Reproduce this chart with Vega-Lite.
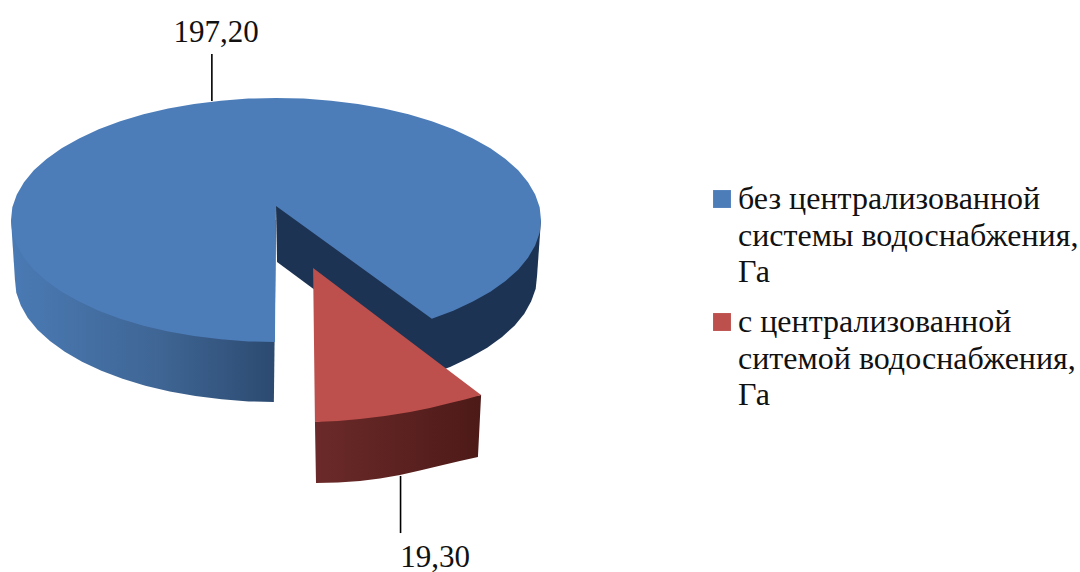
{
  "$schema": "https://vega.github.io/schema/vega-lite/v6.json",
  "width": 1080,
  "height": 572,
  "padding": 0,
  "autosize": "none",
  "background": "#ffffff",
  "config": {
    "view": {"stroke": null},
    "locale": {"number": {"decimal": ",", "thousands": " ", "grouping": [3], "currency": ["", ""]}}
  },
  "datasets": {
    "slices": [
      {"slice": "no_network", "value": 197.2, "lineX": -0.242, "lineTop": -1.361, "lineBottom": -0.975, "labelX": -0.226, "labelY": -1.459},
      {"slice": "network", "value": 19.3, "lineX": 0.47, "lineTop": 2.098, "lineBottom": 2.566, "labelX": 0.6, "labelY": 2.844}
    ],
    "outline": [
      {"part":"no_network","i":0,"x":0,"y":-0.115},
      {"part":"no_network","i":1,"x":-0.004,"y":1},
      {"part":"no_network","i":2,"x":-0.105,"y":0.995},
      {"part":"no_network","i":3,"x":-0.208,"y":0.978},
      {"part":"no_network","i":4,"x":-0.309,"y":0.951},
      {"part":"no_network","i":5,"x":-0.407,"y":0.914},
      {"part":"no_network","i":6,"x":-0.5,"y":0.866},
      {"part":"no_network","i":7,"x":-0.588,"y":0.809},
      {"part":"no_network","i":8,"x":-0.669,"y":0.743},
      {"part":"no_network","i":9,"x":-0.743,"y":0.669},
      {"part":"no_network","i":10,"x":-0.809,"y":0.588},
      {"part":"no_network","i":11,"x":-0.866,"y":0.5},
      {"part":"no_network","i":12,"x":-0.914,"y":0.407},
      {"part":"no_network","i":13,"x":-0.951,"y":0.309},
      {"part":"no_network","i":14,"x":-0.978,"y":0.208},
      {"part":"no_network","i":15,"x":-0.995,"y":0.105},
      {"part":"no_network","i":16,"x":-1,"y":0},
      {"part":"no_network","i":17,"x":-0.995,"y":-0.105},
      {"part":"no_network","i":18,"x":-0.978,"y":-0.208},
      {"part":"no_network","i":19,"x":-0.951,"y":-0.309},
      {"part":"no_network","i":20,"x":-0.914,"y":-0.407},
      {"part":"no_network","i":21,"x":-0.866,"y":-0.5},
      {"part":"no_network","i":22,"x":-0.809,"y":-0.588},
      {"part":"no_network","i":23,"x":-0.743,"y":-0.669},
      {"part":"no_network","i":24,"x":-0.669,"y":-0.743},
      {"part":"no_network","i":25,"x":-0.588,"y":-0.809},
      {"part":"no_network","i":26,"x":-0.5,"y":-0.866},
      {"part":"no_network","i":27,"x":-0.407,"y":-0.914},
      {"part":"no_network","i":28,"x":-0.309,"y":-0.951},
      {"part":"no_network","i":29,"x":-0.208,"y":-0.978},
      {"part":"no_network","i":30,"x":-0.105,"y":-0.995},
      {"part":"no_network","i":31,"x":0,"y":-1},
      {"part":"no_network","i":32,"x":0.105,"y":-0.995},
      {"part":"no_network","i":33,"x":0.208,"y":-0.978},
      {"part":"no_network","i":34,"x":0.309,"y":-0.951},
      {"part":"no_network","i":35,"x":0.407,"y":-0.914},
      {"part":"no_network","i":36,"x":0.5,"y":-0.866},
      {"part":"no_network","i":37,"x":0.588,"y":-0.809},
      {"part":"no_network","i":38,"x":0.669,"y":-0.743},
      {"part":"no_network","i":39,"x":0.743,"y":-0.669},
      {"part":"no_network","i":40,"x":0.809,"y":-0.588},
      {"part":"no_network","i":41,"x":0.866,"y":-0.5},
      {"part":"no_network","i":42,"x":0.914,"y":-0.407},
      {"part":"no_network","i":43,"x":0.951,"y":-0.309},
      {"part":"no_network","i":44,"x":0.978,"y":-0.208},
      {"part":"no_network","i":45,"x":0.995,"y":-0.105},
      {"part":"no_network","i":46,"x":1,"y":0},
      {"part":"no_network","i":47,"x":0.995,"y":0.105},
      {"part":"no_network","i":48,"x":0.978,"y":0.208},
      {"part":"no_network","i":49,"x":0.951,"y":0.309},
      {"part":"no_network","i":50,"x":0.914,"y":0.407},
      {"part":"no_network","i":51,"x":0.866,"y":0.5},
      {"part":"no_network","i":52,"x":0.809,"y":0.588},
      {"part":"no_network","i":53,"x":0.743,"y":0.669},
      {"part":"no_network","i":54,"x":0.669,"y":0.743},
      {"part":"no_network","i":55,"x":0.588,"y":0.809},

      {"part":"blueSide","i":0,"x":-0.008,"y":1.492},
      {"part":"blueSide","i":1,"x":-0.103,"y":1.487},
      {"part":"blueSide","i":2,"x":-0.205,"y":1.47},
      {"part":"blueSide","i":3,"x":-0.304,"y":1.443},
      {"part":"blueSide","i":4,"x":-0.401,"y":1.406},
      {"part":"blueSide","i":5,"x":-0.493,"y":1.358},
      {"part":"blueSide","i":6,"x":-0.579,"y":1.301},
      {"part":"blueSide","i":7,"x":-0.659,"y":1.235},
      {"part":"blueSide","i":8,"x":-0.732,"y":1.161},
      {"part":"blueSide","i":9,"x":-0.797,"y":1.08},
      {"part":"blueSide","i":10,"x":-0.853,"y":0.992},
      {"part":"blueSide","i":11,"x":-0.9,"y":0.899},
      {"part":"blueSide","i":12,"x":-0.937,"y":0.801},
      {"part":"blueSide","i":13,"x":-0.963,"y":0.7},
      {"part":"blueSide","i":14,"x":-0.98,"y":0.597},
      {"part":"blueSide","i":15,"x":-0.985,"y":0.492},
      {"part":"blueSide","i":16,"x":-1,"y":0},
      {"part":"blueSide","i":17,"x":0,"y":0},

      {"part":"navy","i":0,"x":0,"y":-0.115},
      {"part":"navy","i":1,"x":1,"y":0},
      {"part":"navy","i":2,"x":0.985,"y":0.459},
      {"part":"navy","i":3,"x":0.98,"y":0.564},
      {"part":"navy","i":4,"x":0.963,"y":0.667},
      {"part":"navy","i":5,"x":0.937,"y":0.768},
      {"part":"navy","i":6,"x":0.9,"y":0.866},
      {"part":"navy","i":7,"x":0.853,"y":0.959},
      {"part":"navy","i":8,"x":0.797,"y":1.047},
      {"part":"navy","i":9,"x":0.732,"y":1.128},
      {"part":"navy","i":10,"x":0.659,"y":1.202},
      {"part":"navy","i":11,"x":0.579,"y":1.268},
      {"part":"navy","i":12,"x":0.004,"y":0.344},

      {"part":"redSide","i":0,"x":0.147,"y":1.656},
      {"part":"redSide","i":1,"x":0.151,"y":2.156},
      {"part":"redSide","i":2,"x":0.234,"y":2.152},
      {"part":"redSide","i":3,"x":0.317,"y":2.139},
      {"part":"redSide","i":4,"x":0.392,"y":2.119},
      {"part":"redSide","i":5,"x":0.468,"y":2.09},
      {"part":"redSide","i":6,"x":0.543,"y":2.053},
      {"part":"redSide","i":7,"x":0.63,"y":2.008},
      {"part":"redSide","i":8,"x":0.694,"y":1.975},
      {"part":"redSide","i":9,"x":0.762,"y":1.943},
      {"part":"redSide","i":10,"x":0.774,"y":1.434},

      {"part":"network","i":0,"x":0.14,"y":0.393},
      {"part":"network","i":1,"x":0.147,"y":1.656},
      {"part":"network","i":2,"x":0.234,"y":1.648},
      {"part":"network","i":3,"x":0.317,"y":1.631},
      {"part":"network","i":4,"x":0.411,"y":1.607},
      {"part":"network","i":5,"x":0.506,"y":1.574},
      {"part":"network","i":6,"x":0.581,"y":1.541},
      {"part":"network","i":7,"x":0.657,"y":1.5},
      {"part":"network","i":8,"x":0.713,"y":1.471},
      {"part":"network","i":9,"x":0.774,"y":1.434}
    ]
  },
  "layer": [
    {
      "description": "Outer wall of the large slice, darkening toward the cut",
      "data": {"name": "outline"},
      "transform": [{"filter": "datum.part === 'blueSide'"}],
      "mark": {"type": "line", "stroke": null, "fill": {"x1": 0, "x2": 1, "y1": 0, "y2": 0, "gradient": "linear", "stops": [{"offset": 0, "color": "#4a7ab4"}, {"offset": 0.55, "color": "#3f6695"}, {"offset": 1, "color": "#2c4a70"}]}},
      "encoding": {
        "x": {"field": "x", "type": "quantitative", "axis": null, "scale": {"domain": [-1.04151, 3.03396], "nice": false, "zero": false}},
        "y": {"field": "y", "type": "quantitative", "axis": null, "scale": {"domain": [-1.80328, 2.88525], "nice": false, "zero": false, "reverse": true}},
        "order": {"field": "i", "type": "quantitative"}
      }
    },
    {
      "description": "Shaded inner and right-hand walls of the large slice",
      "data": {"name": "outline"},
      "transform": [{"filter": "datum.part === 'navy'"}],
      "mark": {"type": "line", "stroke": null, "fill": "#1c3353"},
      "encoding": {
        "x": {"field": "x", "type": "quantitative", "axis": null, "scale": {"domain": [-1.04151, 3.03396], "nice": false, "zero": false}},
        "y": {"field": "y", "type": "quantitative", "axis": null, "scale": {"domain": [-1.80328, 2.88525], "nice": false, "zero": false, "reverse": true}},
        "order": {"field": "i", "type": "quantitative"}
      }
    },
    {
      "description": "Outer wall of the pulled-out slice",
      "data": {"name": "outline"},
      "transform": [{"filter": "datum.part === 'redSide'"}],
      "mark": {"type": "line", "stroke": null, "fill": {"x1": 0, "x2": 1, "y1": 0, "y2": 0, "gradient": "linear", "stops": [{"offset": 0, "color": "#6b2a29"}, {"offset": 1, "color": "#4d1a18"}]}},
      "encoding": {
        "x": {"field": "x", "type": "quantitative", "axis": null, "scale": {"domain": [-1.04151, 3.03396], "nice": false, "zero": false}},
        "y": {"field": "y", "type": "quantitative", "axis": null, "scale": {"domain": [-1.80328, 2.88525], "nice": false, "zero": false, "reverse": true}},
        "order": {"field": "i", "type": "quantitative"}
      }
    },
    {
      "description": "Top faces of both slices, which also feed the legend",
      "data": {"name": "outline"},
      "transform": [{"filter": "datum.part === 'no_network' || datum.part === 'network'"}],
      "mark": {"type": "line", "stroke": null},
      "encoding": {
        "x": {"field": "x", "type": "quantitative", "axis": null, "scale": {"domain": [-1.04151, 3.03396], "nice": false, "zero": false}},
        "y": {"field": "y", "type": "quantitative", "axis": null, "scale": {"domain": [-1.80328, 2.88525], "nice": false, "zero": false, "reverse": true}},
        "order": {"field": "i", "type": "quantitative"},
        "fill": {
          "field": "part",
          "type": "nominal",
          "scale": {"domain": ["no_network", "network"], "range": ["#4d7db9", "#bd4f4c"]},
          "legend": {
            "title": null,
            "orient": "none",
            "legendX": 706,
            "legendY": 183,
            "symbolType": "square",
            "symbolSize": 320,
            "symbolStrokeWidth": 0,
            "labelFont": "Liberation Serif",
            "labelFontSize": 32,
            "labelColor": "#111111",
            "labelLimit": 400,
            "labelOffset": 0,
            "rowPadding": 18,
            "labelExpr": "datum.label === 'no_network' ? ['без централизованной', 'системы водоснабжения,', 'Га'] : ['с централизованной', 'ситемой водоснабжения,', 'Га']",
            "encoding": {"labels": {"lineHeight": {"value": 36.5}}}
          }
        }
      }
    },
    {
      "description": "Leader lines from the value labels to the slices",
      "data": {"name": "slices"},
      "mark": {"type": "rule", "color": "#000000", "strokeWidth": 1.6},
      "encoding": {
        "x": {"field": "lineX", "type": "quantitative", "axis": null, "scale": {"domain": [-1.04151, 3.03396], "nice": false, "zero": false}},
        "y": {"field": "lineTop", "type": "quantitative", "axis": null, "scale": {"domain": [-1.80328, 2.88525], "nice": false, "zero": false, "reverse": true}},
        "y2": {"field": "lineBottom"}
      }
    },
    {
      "description": "Slice values with a decimal comma",
      "data": {"name": "slices"},
      "mark": {"type": "text", "font": "Liberation Serif", "fontSize": 31, "color": "#111111", "align": "center", "baseline": "alphabetic"},
      "encoding": {
        "x": {"field": "labelX", "type": "quantitative", "axis": null, "scale": {"domain": [-1.04151, 3.03396], "nice": false, "zero": false}},
        "y": {"field": "labelY", "type": "quantitative", "axis": null, "scale": {"domain": [-1.80328, 2.88525], "nice": false, "zero": false, "reverse": true}},
        "text": {"field": "value", "type": "quantitative", "format": ".2f"}
      }
    }
  ]
}
